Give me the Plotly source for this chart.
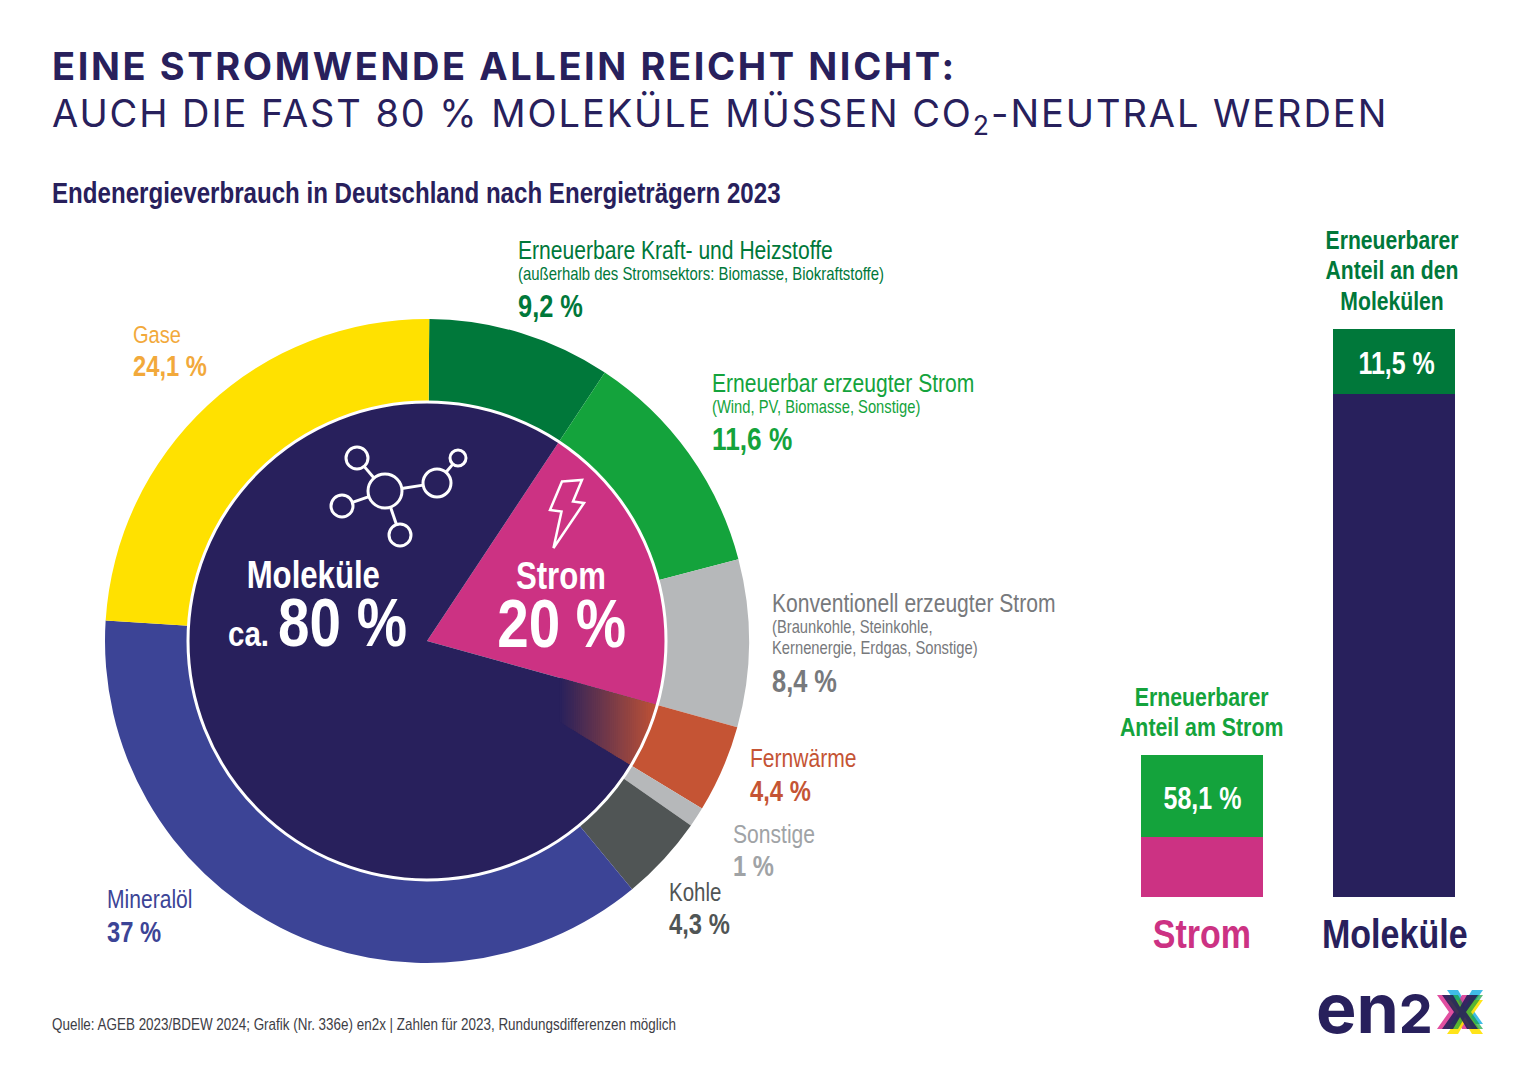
import math
import plotly.graph_objects as go

W, H = 1528, 1080

# ---------- data ----------
ring_labels = ["Erneuerbare Kraft- und Heizstoffe", "Erneuerbar erzeugter Strom", "Konventionell erzeugter Strom",
               "Fernwärme", "Sonstige", "Kohle", "Mineralöl", "Gase"]
ring_values = [9.2, 11.6, 8.4, 4.4, 1.0, 4.3, 37.0, 24.1]
core_labels = ["Strom", "Moleküle"]
core_values = [20, 80]
bar_categories = ["Strom", "Moleküle"]
bar_renewable = [11.6, 9.2]
bar_other = [8.4, 70.8]
bar_share_labels = ["58,1 %", "11,5 %"]

# ---------- palette ----------
DGREEN, GREEN, GREY, RUST, DGREY = "#00783A", "#14A33C", "#B6B8BA", "#C55434", "#505555"
BLUE, YELLOW, NAVY, MAGENTA = "#3C4496", "#FFE100", "#28205C", "#CC3283"
ring_colors = [DGREEN, GREEN, GREY, RUST, GREY, DGREY, BLUE, YELLOW]
core_colors = [MAGENTA, NAVY]

CX, CY, R_OUT, R_IN = 427, 641, 322, 239
ROT = 0.4
BODY = "Liberation Sans"
HEAD = "Inter"
LBL = 25.7


def px(x):
    return x / W


def py(y):
    return 1 - y / H


def dom(r):
    return dict(x=[px(CX - r), px(CX + r)], y=[py(CY + r), py(CY - r)])


fig = go.Figure()
fig.add_trace(go.Pie(labels=ring_labels, values=ring_values, sort=False, direction="clockwise", rotation=ROT,
                     hole=R_IN / R_OUT, domain=dom(R_OUT), marker=dict(colors=ring_colors, line=dict(width=0)),
                     textinfo="none", showlegend=False, name="Energieträger"))
fig.add_trace(go.Pie(labels=core_labels, values=core_values, sort=False, direction="clockwise",
                     rotation=ring_values[0] * 3.6 + ROT, domain=dom(R_IN),
                     marker=dict(colors=core_colors, line=dict(width=0)),
                     textinfo="none", showlegend=False, name="Kern"))

fig.add_trace(go.Bar(x=bar_categories, y=bar_other, marker=dict(color=[MAGENTA, NAVY], line=dict(width=0)),
                     showlegend=False, name="Rest"))
fig.add_trace(go.Bar(x=bar_categories, y=bar_renewable, marker=dict(color=[GREEN, DGREEN], line=dict(width=0)),
                     showlegend=False, name="Erneuerbar"))

annotations = []


def label(text, x, y, size, color, bold=False, anchor="left", family=BODY):
    annotations.append(dict(text=text, x=px(x - (2 if anchor == "left" else 0)), y=py(y), xref="paper", yref="paper",
                            xanchor=anchor, yanchor="middle", showarrow=False, align=anchor,
                            font=dict(family=family, size=size, color=color, weight="bold" if bold else "normal")))


# title
label("EINE STROMWENDE ALLEIN REICHT NICHT:", 52, 66, 38, NAVY, True, family=HEAD)
label("AUCH DIE FAST 80 % MOLEKÜLE MÜSSEN CO<sub>2</sub>-NEUTRAL WERDEN", 52, 116, 38, NAVY, family=HEAD)
label("Endenergieverbrauch in Deutschland nach Energieträgern 2023", 52, 192, 29.4, NAVY, True)

# ring labels
label(ring_labels[0], 518, 250, LBL, DGREEN)
label("(außerhalb des Stromsektors: Biomasse, Biokraftstoffe)", 518, 274, 18.2, DGREEN)
label("9,2 %", 518, 306, 31, DGREEN, True)
label(ring_labels[1], 712, 383, LBL, GREEN)
label("(Wind, PV, Biomasse, Sonstige)", 712, 407, 18, GREEN)
label("11,6 %", 712, 439, 32, GREEN, True)
label(ring_labels[2], 772, 603, LBL, "#77797C")
label("(Braunkohle, Steinkohle,", 772, 627, 18, "#77797C")
label("Kernenergie, Erdgas, Sonstige)", 772, 648, 18, "#77797C")
label("8,4 %", 772, 681, 31, "#77797C", True)
label(ring_labels[3], 750, 758, LBL, RUST)
label("4,4 %", 750, 791, 29, RUST, True)
label(ring_labels[4], 733, 834, LBL, "#A0A3A6")
label("1 %", 733, 866, 29, "#A0A3A6", True)
label(ring_labels[5], 669, 892, 25, DGREY)
label("4,3 %", 669, 924, 29, DGREY, True)
label(ring_labels[6], 107, 899, LBL, BLUE)
label("37 %", 107, 932, 29, BLUE, True)
label(ring_labels[7], 133, 334, 24.5, "#F2A93B")
label("24,1 %", 133, 366, 29, "#F2A93B", True)

# centre
label("Moleküle", 313, 575, 38, "white", True, "center")
label("ca.", 228, 633, 36, "white", True)
label("80 %", 278, 622, 69, "white", True)
label("Strom", 561, 576, 38, "white", True, "center")
label("20 %", 561, 624, 69, "white", True, "center")

# bar captions
label(bar_share_labels[0], 1202, 798, 30.5, "white", True, "center")
label(bar_share_labels[1], 1396, 363, 30.5, "white", True, "center")
label("Erneuerbarer", 1201, 697, 26, GREEN, True, "center")
label("Anteil am Strom", 1201, 727, 26, GREEN, True, "center")
label("Erneuerbarer", 1392, 240, 25.8, DGREEN, True, "center")
label("Anteil an den", 1392, 270, 25.8, DGREEN, True, "center")
label("Molekülen", 1392, 301, 25.8, DGREEN, True, "center")
label(bar_categories[0], 1202, 933, 41.5, MAGENTA, True, "center")
label(bar_categories[1], 1395, 933, 41.5, NAVY, True, "center")

# footer
label("Quelle: AGEB 2023/BDEW 2024; Grafik (Nr. 336e) en2x | Zahlen für 2023, Rundungsdifferenzen möglich",
      52, 1024, 16.4, "#3d3d45")
label('en<span style="font-size:54px">2</span>', 1316, 1008, 68, NAVY, True, family=HEAD)

shapes = []


def poly(points, fill=None, line=None, width=0, opacity=1.0):
    path = "M " + " L ".join(f"{px(x):.5f},{py(y):.5f}" for x, y in points) + " Z"
    shapes.append(dict(type="path", path=path, xref="paper", yref="paper", layer="above", opacity=opacity,
                       fillcolor=fill or "rgba(0,0,0,0)", line=dict(color=line or "rgba(0,0,0,0)", width=width)))


def circle(x, y, r, line="white", width=3, fill=None):
    shapes.append(dict(type="circle", xref="paper", yref="paper", layer="above",
                       x0=px(x - r), x1=px(x + r), y0=py(y + r), y1=py(y - r),
                       fillcolor=fill or "rgba(0,0,0,0)", line=dict(color=line, width=width)))


# fade of the Fernwärme wedge into the inner disc (vertical strips of the wedge)
a0 = math.radians(sum(ring_values[:3]) * 3.6 + ROT)
a1 = math.radians(sum(ring_values[:4]) * 3.6 + ROT)
GX0, GX1, STEPS = 560, 660, 50


def hit(angle, x):
    return CY - (x - CX) / math.tan(angle)


nr, ng, nb = 0x28, 0x20, 0x5C
rr, rg, rb = 0xC5, 0x54, 0x34
for i in range(STEPS):
    xa = GX0 + (GX1 - GX0) * i / STEPS
    xb = GX0 + (GX1 - GX0) * (i + 1) / STEPS
    xe = xb + 1.2
    t = ((i + 0.5) / STEPS)
    col = f"rgb({nr+(rr-nr)*t:.0f},{ng+(rg-ng)*t:.0f},{nb+(rb-nb)*t:.0f})"
    lim = lambda x: CY + math.sqrt(max(R_IN ** 2 - (x - CX) ** 2, 0))
    la, lb = lim(xa), lim(xe)
    poly([(xa, min(hit(a0, xa), la)), (xe, min(hit(a0, xe), lb)), (xe, min(hit(a1, xe), lb)), (xa, min(hit(a1, xa), la))],
         fill=col)

# ring separator
circle(CX, CY, R_IN, width=3)

# molecule icon
nodes = [(357, 458, 11), (342, 506, 11), (400, 535, 11), (437, 483, 14), (458, 458, 8)]
hub = (385, 491, 17)
links = [(hub, nodes[0]), (hub, nodes[1]), (hub, nodes[2]), (hub, nodes[3]), (nodes[3], nodes[4])]
circle(*hub)
for n in nodes:
    circle(*n)
for a, b in links:
    d = math.hypot(b[0] - a[0], b[1] - a[1])
    ux, uy = (b[0] - a[0]) / d, (b[1] - a[1]) / d
    shapes.append(dict(type="line", xref="paper", yref="paper", layer="above",
                       x0=px(a[0] + ux * a[2]), y0=py(a[1] + uy * a[2]),
                       x1=px(b[0] - ux * b[2]), y1=py(b[1] - uy * b[2]), line=dict(color="white", width=3)))

# lightning bolt
poly([(562, 481.5), (582, 480), (573, 501.5), (584, 503), (553.5, 548), (561.5, 511.5), (550, 510)],
     line="white", width=2.5)


# logo X
def logo_x(ox, oy, color, opacity=0.9):
    cx, cy, w, h, t = 1460 + ox, 1012 + oy, 18, 17, 8
    poly([(cx - w, cy - h), (cx - w + t + 3, cy - h), (cx, cy - 5), (cx + w - t - 3, cy - h), (cx + w, cy - h),
          (cx + 6, cy), (cx + w, cy + h), (cx + w - t - 3, cy + h), (cx, cy + 5), (cx - w + t + 3, cy + h),
          (cx - w, cy + h), (cx - 6, cy)], fill=color, opacity=opacity)


logo_x(5, -5, "#2BB5E6")
logo_x(-5, 0, "#DE3C96")
logo_x(5, 5, "#FFE100")
logo_x(5, 0, "#14A33C", 0.7)
logo_x(0, 0, NAVY, 0.9)

fig.update_layout(
    width=W, height=H, margin=dict(l=0, r=0, t=0, b=0), paper_bgcolor="white", plot_bgcolor="white",
    barmode="stack", bargap=1 - 122 / 192,
    xaxis=dict(domain=[px(1106), px(1490)], range=[-0.5, 1.5], visible=False, type="category", fixedrange=True),
    yaxis=dict(domain=[py(897), py(329)], range=[0, 80], visible=False, fixedrange=True),
    annotations=annotations, shapes=shapes,
)

# Narrow look for body text and tracked capitals for the headline (no condensed font is installed).
POST = """
document.body.style.margin='0';
document.querySelectorAll('.annotation-text').forEach(function(t){
  var ff=t.style.fontFamily||'';
  if(ff.indexOf('Inter')>=0){
    if(t.textContent!=='en2'){t.style.letterSpacing=(t.style.fontWeight=='700'||t.style.fontWeight=='bold')?'2.6px':'1.93px';}
    return;
  }
  var b=t.getBBox();
  var anchor=t.getAttribute('text-anchor')||t.style.textAnchor||'middle';
  var ox=anchor==='start'?b.x:(b.x+b.width/2);
  t.setAttribute('transform','translate('+ox+' 0) scale(0.82 1) translate('+(-ox)+' 0)');
});
"""
fig.write_html("out.html", post_script=POST, config={"displayModeBar": False})
